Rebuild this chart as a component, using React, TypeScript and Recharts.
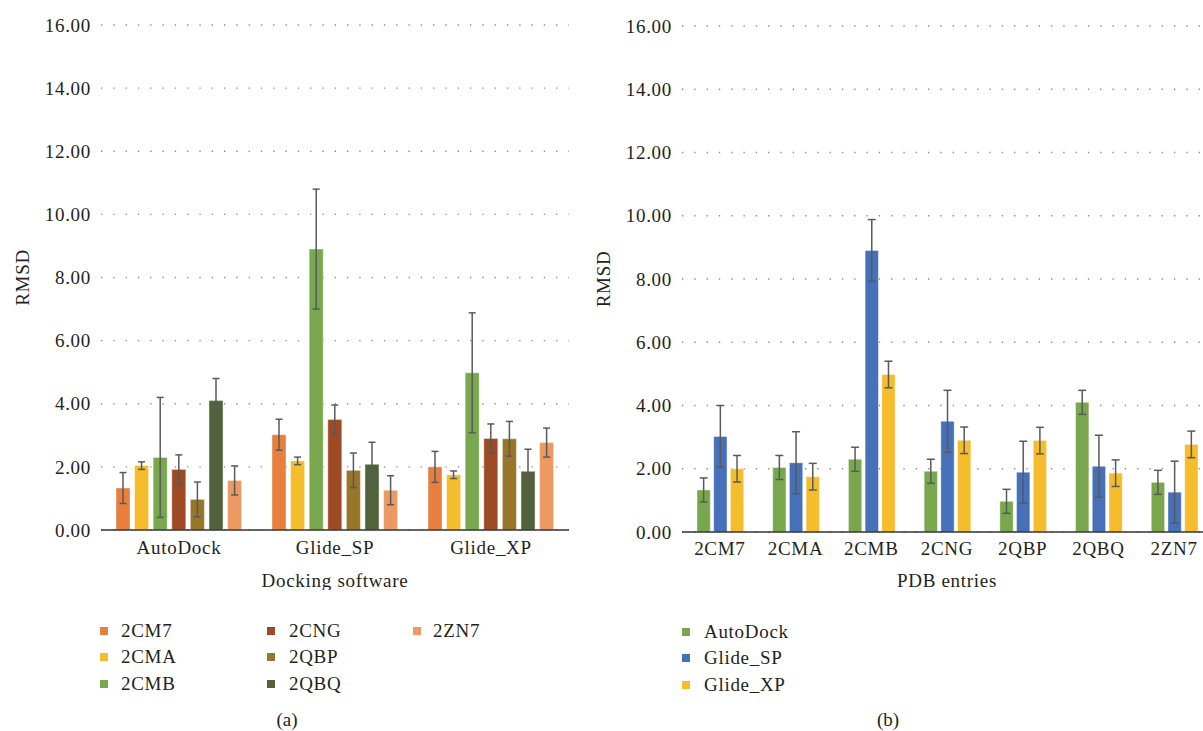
import React from 'react';
import { BarChart, Bar, XAxis, YAxis, CartesianGrid, ErrorBar, Label } from 'recharts';

const softwares = ['AutoDock', 'Glide_SP', 'Glide_XP'];
const pdbs = ['2CM7', '2CMA', '2CMB', '2CNG', '2QBP', '2QBQ', '2ZN7'];
const autoDock = [1.33, 2.04, 2.3, 1.92, 0.97, 4.1, 1.57];
const glideSP = [3.02, 2.19, 8.9, 3.5, 1.89, 2.08, 1.26];
const glideXP = [2.0, 1.75, 4.98, 2.9, 2.89, 1.86, 2.77];
const errByPdb = [0.49, 0.12, 1.9, 0.46, 0.55, 0.7, 0.46];
const errBySoftware = [0.38, 0.98, 0.42];
const yTicks = [0, 2, 4, 6, 8, 10, 12, 14, 16];

const pdbColors = ['#E87F3E', '#F5BC2B', '#78A74D', '#9E4B25', '#977529', '#51633A', '#EC9962'];
const softwareColors = ['#78A74D', '#4670B8', '#F5BC2B'];

const values = [autoDock, glideSP, glideXP];

const leftData = softwares.map((s, si) => {
  const row: Record<string, any> = { name: s };
  pdbs.forEach((p, pi) => {
    row[p] = values[si][pi];
    row['e_' + p] = errByPdb[pi];
  });
  return row;
});

const rightData = pdbs.map((p, pi) => {
  const row: Record<string, any> = { name: p };
  softwares.forEach((s, si) => {
    row[s] = values[si][pi];
    row['e_' + s] = errBySoftware[si];
  });
  return row;
});

const FONT = "'Liberation Serif', 'Times New Roman', serif";
const TEXT = '#231F20';
const tickStyle = { fontSize: 19, fill: TEXT, fontFamily: FONT, letterSpacing: 0.7 };

const rotatedLabel = (x: number) => (props: any) => {
  const vb = props.viewBox || {};
  const y = (vb.y || 0) + (vb.height || 0) / 2;
  return (
    <text
      x={x}
      y={y}
      transform={`rotate(-90, ${x}, ${y})`}
      textAnchor="middle"
      dominantBaseline="central"
      fontSize={19}
      fill={TEXT}
      fontFamily={FONT}
      style={{ letterSpacing: 0.7 }}
    >
      RMSD
    </text>
  );
};

const legendItem = (label: string, color: string, sx: number, tx: number, cy: number) => (
  <div key={label} style={{ position: 'absolute', left: sx, top: cy - 14, height: 28, display: 'flex', alignItems: 'center' }}>
    <div style={{ width: 8, height: 8, background: color }} />
    <span style={{ marginLeft: tx - sx - 8, fontSize: 19, color: TEXT, fontFamily: FONT, letterSpacing: 0.7, whiteSpace: 'nowrap' }}>{label}</span>
  </div>
);

export default function App() {
  const leftCols = [
    { sx: 100, tx: 121 },
    { sx: 267, tx: 289 },
    { sx: 413, tx: 433 },
  ];
  const rows = [630.5, 657.3, 684.2];
  return (
    <div style={{ position: 'absolute', left: 0, top: 0, width: 1203, height: 731, overflow: 'hidden', background: '#fff', fontFamily: FONT }}>
      <div style={{ position: 'absolute', left: 0, top: 0 }}>
        <BarChart width={600} height={590} data={leftData} margin={{ top: 25, right: 31, bottom: 0, left: 0 }} barGap={4.6}>
          <CartesianGrid vertical={false} stroke="#8a8a8a" strokeWidth={1.3} strokeDasharray="1.3 11" />
          <XAxis dataKey="name" height={60} tickLine={false} tickSize={0} tickMargin={11} axisLine={{ stroke: '#333', strokeWidth: 1.6 }} tick={tickStyle} interval={0}>
            <Label value="Docking software" position="insideBottom" offset={3} style={{ fontSize: 19, fill: TEXT, fontFamily: FONT, letterSpacing: 0.7 }} />
          </XAxis>
          <YAxis width={101} domain={[0, 16]} ticks={yTicks} axisLine={false} tickLine={false} tickSize={0} tickMargin={10} tick={tickStyle} tickFormatter={(v: number) => v.toFixed(2)} label={{ content: rotatedLabel(22) }} />
          {pdbs.map((p, i) => (
            <Bar key={p} dataKey={p} fill={pdbColors[i]} barSize={14} isAnimationActive={false} stroke="rgba(255,255,255,0.4)" strokeWidth={1}>
              <ErrorBar dataKey={'e_' + p} width={3.5} stroke="#5a5a5a" strokeWidth={1.5} isAnimationActive={false} />
            </Bar>
          ))}
        </BarChart>
      </div>
      <div style={{ position: 'absolute', left: 580, top: 0 }}>
        <BarChart width={632} height={592} data={rightData} margin={{ top: 26, right: 0, bottom: 0, left: 0 }} barGap={3.4}>
          <CartesianGrid vertical={false} stroke="#8a8a8a" strokeWidth={1.3} strokeDasharray="1.3 11" />
          <XAxis dataKey="name" height={60} tickLine={false} tickSize={0} tickMargin={10} axisLine={{ stroke: '#333', strokeWidth: 1.6 }} tick={tickStyle} interval={0}>
            <Label value="PDB entries" position="insideBottom" offset={5} style={{ fontSize: 19, fill: TEXT, fontFamily: FONT, letterSpacing: 0.7 }} />
          </XAxis>
          <YAxis width={102} domain={[0, 16]} ticks={yTicks} axisLine={false} tickLine={false} tickSize={0} tickMargin={10} tick={tickStyle} tickFormatter={(v: number) => v.toFixed(2)} label={{ content: rotatedLabel(23) }} />
          {softwares.map((s, i) => (
            <Bar key={s} dataKey={s} fill={softwareColors[i]} barSize={13.3} isAnimationActive={false} stroke="rgba(255,255,255,0.4)" strokeWidth={1}>
              <ErrorBar dataKey={'e_' + s} width={4} stroke="#5a5a5a" strokeWidth={1.5} isAnimationActive={false} />
            </Bar>
          ))}
        </BarChart>
      </div>
      {pdbs.map((p, i) => {
        const col = leftCols[Math.floor(i / 3)];
        return legendItem(p, pdbColors[i], col.sx, col.tx, rows[i % 3]);
      })}
      {softwares.map((s, i) => legendItem(s, softwareColors[i], 682, 704, [631.5, 658.3, 685][i]))}
      <div style={{ position: 'absolute', left: 237, width: 100, top: 709, textAlign: 'center', fontSize: 19, color: TEXT, fontFamily: FONT }}>(a)</div>
      <div style={{ position: 'absolute', left: 838, width: 100, top: 709, textAlign: 'center', fontSize: 19, color: TEXT, fontFamily: FONT }}>(b)</div>
    </div>
  );
}
